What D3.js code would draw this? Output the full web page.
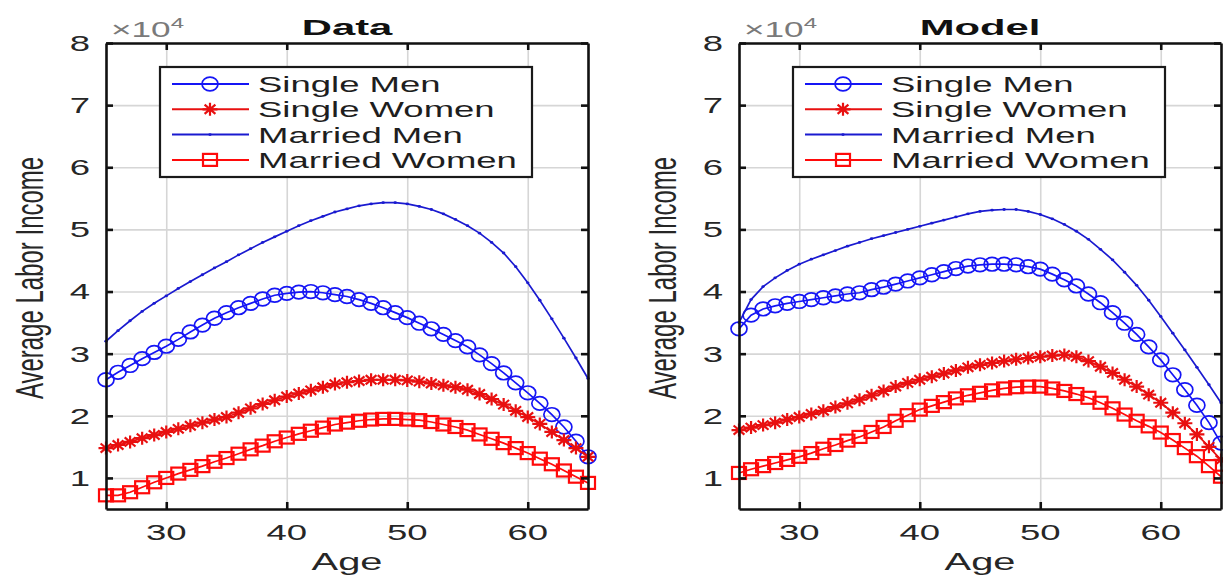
<!DOCTYPE html>
<html>
<head>
<meta charset="utf-8">
<script src="https://cdn.jsdelivr.net/npm/d3@7"></script>
<style>
  body { margin: 0; background: #fff; }
  svg { display: block; }
</style>
</head>
<body>
<div id="chart"></div>
<script>
// ages on the x axis
const ages = [25, 26, 27, 28, 29, 30, 31, 32, 33, 34, 35, 36, 37, 38, 39, 40, 41, 42, 43, 44, 45,
              46, 47, 48, 49, 50, 51, 52, 53, 54, 55, 56, 57, 58, 59, 60, 61, 62, 63, 64, 65];

// average labor income, in units of 10^4
const singleMenData = [2.58, 2.70, 2.81, 2.92, 3.02, 3.12, 3.23, 3.35, 3.46, 3.57, 3.66, 3.74, 3.81, 3.88, 3.94, 3.97, 3.99, 4.00, 3.98, 3.95, 3.92,
                       3.87, 3.81, 3.74, 3.66, 3.58, 3.49, 3.40, 3.31, 3.21, 3.11, 2.98, 2.84, 2.69, 2.53, 2.37, 2.20, 2.02, 1.82, 1.59, 1.34];
const singleWomenData = [1.48, 1.53, 1.58, 1.64, 1.69, 1.74, 1.79, 1.84, 1.89, 1.94, 1.98, 2.05, 2.12, 2.19, 2.25, 2.31, 2.36, 2.41, 2.46, 2.51, 2.54,
                         2.56, 2.58, 2.58, 2.58, 2.57, 2.55, 2.52, 2.49, 2.46, 2.42, 2.35, 2.27, 2.18, 2.08, 1.98, 1.87, 1.74, 1.61, 1.48, 1.34];
const marriedMenData = [3.20, 3.37, 3.53, 3.68, 3.81, 3.93, 4.05, 4.16, 4.27, 4.38, 4.48, 4.59, 4.69, 4.79, 4.88, 4.97, 5.06, 5.14, 5.21, 5.28, 5.33,
                        5.38, 5.41, 5.43, 5.43, 5.41, 5.37, 5.32, 5.25, 5.16, 5.06, 4.94, 4.79, 4.62, 4.40, 4.14, 3.86, 3.56, 3.25, 2.93, 2.60];
const marriedWomenData = [0.72, 0.72, 0.77, 0.85, 0.93, 1.00, 1.07, 1.13, 1.19, 1.26, 1.32, 1.39, 1.46, 1.52, 1.59, 1.65, 1.71, 1.76, 1.81, 1.86, 1.89,
                          1.92, 1.94, 1.95, 1.95, 1.94, 1.93, 1.90, 1.86, 1.82, 1.77, 1.70, 1.63, 1.56, 1.48, 1.40, 1.31, 1.22, 1.12, 1.02, 0.92];

const singleMenModel = [3.40, 3.62, 3.72, 3.77, 3.81, 3.84, 3.87, 3.90, 3.93, 3.96, 3.98, 4.03, 4.07, 4.12, 4.17, 4.22, 4.27, 4.32, 4.37, 4.41, 4.43,
                        4.44, 4.44, 4.43, 4.40, 4.36, 4.28, 4.19, 4.09, 3.96, 3.82, 3.66, 3.49, 3.31, 3.11, 2.90, 2.66, 2.42, 2.17, 1.89, 1.56];
const singleWomenModel = [1.77, 1.81, 1.85, 1.89, 1.94, 1.98, 2.03, 2.08, 2.14, 2.20, 2.26, 2.33, 2.40, 2.47, 2.53, 2.58, 2.63, 2.68, 2.73, 2.78, 2.82,
                          2.85, 2.88, 2.91, 2.93, 2.95, 2.97, 2.98, 2.95, 2.88, 2.79, 2.69, 2.58, 2.47, 2.34, 2.21, 2.05, 1.88, 1.70, 1.50, 1.29];
const marriedMenModel = [3.50, 3.87, 4.08, 4.22, 4.34, 4.44, 4.52, 4.59, 4.66, 4.73, 4.79, 4.85, 4.90, 4.95, 5.00, 5.05, 5.10, 5.15, 5.20, 5.25, 5.29,
                         5.31, 5.32, 5.32, 5.29, 5.24, 5.17, 5.08, 4.97, 4.84, 4.68, 4.51, 4.31, 4.10, 3.86, 3.60, 3.33, 3.06, 2.78, 2.50, 2.21];
const marriedWomenModel = [1.08, 1.14, 1.19, 1.24, 1.29, 1.34, 1.40, 1.47, 1.53, 1.60, 1.66, 1.74, 1.82, 1.92, 2.01, 2.10, 2.16, 2.22, 2.28, 2.33, 2.37,
                           2.41, 2.44, 2.46, 2.47, 2.47, 2.44, 2.40, 2.35, 2.29, 2.21, 2.12, 2.02, 1.92, 1.83, 1.73, 1.61, 1.48, 1.35, 1.19, 1.02];

const seriesNames = ["Single Men", "Single Women", "Married Men", "Married Women"];
const xTicks = [30, 40, 50, 60];
const yTicks = [1, 2, 3, 4, 5, 6, 7, 8];

// the original figure is stretched sideways, so text gets a horizontal scale
const SX = 1.66;
const FONT = "'Liberation Sans', Arial, Helvetica, sans-serif";

const styles = [
  { color: "#1515f5", marker: "circle" },
  { color: "#e81010", marker: "star" },
  { color: "#1a1ad0", marker: "dot" },
  { color: "#ff0a0a", marker: "square" }
];

const svg = d3.select("#chart").append("svg")
  .attr("width", 1223)
  .attr("height", 578)
  .style("font-family", FONT);

function label(g, x, y, txt, o) {
  o = o || {};
  let tr = `translate(${x},${y}) scale(${o.sx || SX},1)`;
  if (o.rotate) tr += " rotate(-90)";
  const t = g.append("g").attr("transform", tr).append("text")
    .attr("text-anchor", o.anchor || "middle")
    .attr("font-size", o.size || 22)
    .attr("font-weight", o.weight || "normal")
    .attr("fill", o.fill || "#262626")
    .text(txt);
  if (o.dy) t.attr("dy", o.dy);
  return t;
}

function drawMarker(g, type, cx, cy, color) {
  if (type === "circle") {
    g.append("ellipse").attr("cx", cx).attr("cy", cy).attr("rx", 8).attr("ry", 6.8)
      .attr("fill", "none").attr("stroke", color).attr("stroke-width", 1.7);
  } else if (type === "square") {
    g.append("rect").attr("x", cx - 7).attr("y", cy - 6).attr("width", 14).attr("height", 12)
      .attr("fill", "none").attr("stroke", color).attr("stroke-width", 2.2);
  } else if (type === "star") {
    const a = 7.5, b = 6.5, da = 5.4, db = 4.6;
    g.append("path")
      .attr("d", `M${cx - a},${cy}h${2 * a}M${cx},${cy - b}v${2 * b}` +
                 `M${cx - da},${cy - db}L${cx + da},${cy + db}M${cx - da},${cy + db}L${cx + da},${cy - db}`)
      .attr("fill", "none").attr("stroke", color).attr("stroke-width", 2.2);
  } else if (type === "dot") {
    g.append("ellipse").attr("cx", cx).attr("cy", cy).attr("rx", 1.7).attr("ry", 1.4).attr("fill", color);
  }
}

function drawPanel(title, left, right, seriesValues) {
  const top = 43, bottom = 509;
  const x = d3.scaleLinear().domain([25, 65]).range([left, right]);
  const y = d3.scaleLinear().domain([0.5, 8]).range([bottom, top]);
  const g = svg.append("g");

  // grid
  g.append("g").attr("transform", `translate(0,${bottom})`)
    .call(d3.axisBottom(x).tickValues(xTicks).tickSize(-(bottom - top)).tickFormat(""))
    .call(s => s.select(".domain").remove())
    .selectAll("line").attr("stroke", "#d6d6d6").attr("stroke-width", 1.6);
  g.append("g").attr("transform", `translate(${left},0)`)
    .call(d3.axisLeft(y).tickValues(yTicks).tickSize(-(right - left)).tickFormat(""))
    .call(s => s.select(".domain").remove())
    .selectAll("line").attr("stroke", "#d6d6d6").attr("stroke-width", 1.6);

  // series lines and markers
  seriesValues.forEach((vals, i) => {
    const st = styles[i];
    const pts = ages.map((a, k) => [a, vals[k]]);
    const sg = g.append("g");
    sg.append("path").datum(pts)
      .attr("d", d3.line().x(d => x(d[0])).y(d => y(d[1])))
      .attr("fill", "none").attr("stroke", st.color).attr("stroke-width", 1.7);
    pts.forEach(d => drawMarker(sg, st.marker, x(d[0]), y(d[1]), st.color));
  });

  // axes box with inward ticks
  const axStyle = s => {
    s.select(".domain").attr("stroke", "#111").attr("stroke-width", 2.6);
    s.selectAll(".tick line").attr("stroke", "#111").attr("stroke-width", 2.6);
  };
  g.append("g").attr("transform", `translate(0,${bottom})`)
    .call(d3.axisBottom(x).tickValues(xTicks).tickSizeInner(-7).tickSizeOuter(0).tickFormat("")).call(axStyle);
  g.append("g").attr("transform", `translate(0,${top})`)
    .call(d3.axisTop(x).tickValues(xTicks).tickSizeInner(-7).tickSizeOuter(0).tickFormat("")).call(axStyle);
  g.append("g").attr("transform", `translate(${left},0)`)
    .call(d3.axisLeft(y).tickValues(yTicks).tickSizeInner(-7).tickSizeOuter(0).tickFormat("")).call(axStyle);
  g.append("g").attr("transform", `translate(${right},0)`)
    .call(d3.axisRight(y).tickValues(yTicks).tickSizeInner(-7).tickSizeOuter(0).tickFormat("")).call(axStyle);

  // tick labels
  xTicks.forEach(v => label(g, x(v), 540, v, { size: 22 }));
  yTicks.forEach(v => label(g, left - 16, y(v), v, { size: 22, anchor: "end", dy: "0.36em" }));

  // exponent
  const ex = g.append("g").attr("transform", `translate(${left + 5},37) scale(1.6,1)`).append("text")
    .attr("font-size", 22).attr("fill", "#7a7a7a");
  ex.append("tspan").text("\u00d710");
  ex.append("tspan").attr("font-size", 15).attr("dy", -9).text("4");

  // titles
  label(g, (left + right) / 2, 35, title, { size: 22, weight: "bold", sx: 1.9, fill: "#111" });
  label(g, (left + right) / 2, 570, "Age", { size: 24 });
  label(g, left - 63, (top + bottom) / 2 + 2, "Average Labor Income", { size: 24, rotate: true, sx: 1.6 });

  // legend
  const lx = left + 54, ly = 67, lw = 372, lh = 110;
  const lg = g.append("g");
  lg.append("rect").attr("x", lx).attr("y", ly).attr("width", lw).attr("height", lh)
    .attr("fill", "#fff").attr("stroke", "#1a1a1a").attr("stroke-width", 2.2);
  seriesNames.forEach((name, i) => {
    const cy = ly + 17 + i * 25.3;
    const st = styles[i];
    lg.append("line").attr("x1", lx + 12).attr("x2", lx + 89).attr("y1", cy).attr("y2", cy)
      .attr("stroke", st.color).attr("stroke-width", 2);
    drawMarker(lg, st.marker, lx + 50, cy, st.color);
    label(lg, lx + 98, cy + 8, name, { size: 22, anchor: "start", fill: "#1e1e1e" });
  });
}

drawPanel("Data", 106, 588, [singleMenData, singleWomenData, marriedMenData, marriedWomenData]);
drawPanel("Model", 739, 1221, [singleMenModel, singleWomenModel, marriedMenModel, marriedWomenModel]);
</script>
</body>
</html>
